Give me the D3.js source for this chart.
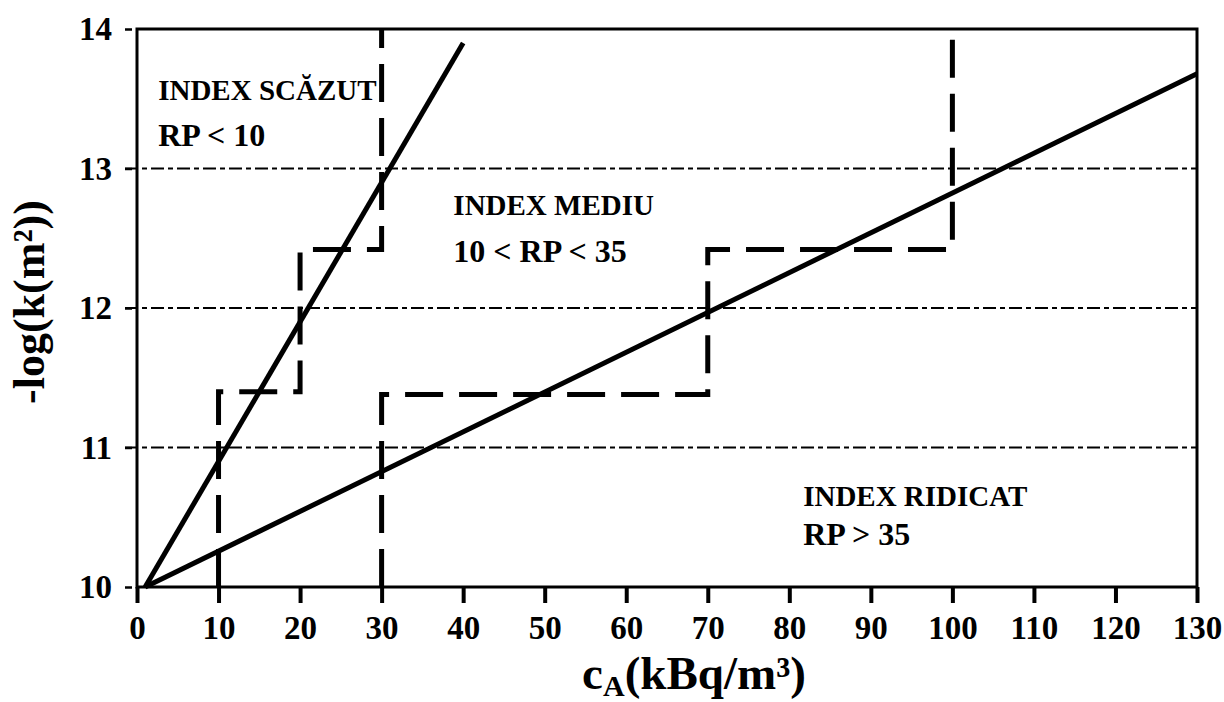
<!DOCTYPE html>
<html>
<head>
<meta charset="utf-8">
<title>Index radon</title>
<script src="https://d3js.org/d3.v7.min.js"></script>
<style>
  body { margin: 0; background: #fff; }
  text { font-family: "Liberation Serif", "Times New Roman", serif; font-weight: bold; fill: #000; }
</style>
</head>
<body>
<script>
// data
var xTicks = [0, 10, 20, 30, 40, 50, 60, 70, 80, 90, 100, 110, 120, 130];
var yTicks = [10, 11, 12, 13, 14];
var gridLevels = [11, 12, 13];
var steepLine = [[1, 10], [40, 13.9]];
var shallowLine = [[1, 10], [130, 13.68]];
var stepLow = [[10, 10], [10, 11.4], [20, 11.4], [20, 12.42], [30, 12.42], [30, 14]];
var stepHigh = [[30, 10], [30, 11.38], [70, 11.38], [70, 12.42], [100, 12.42], [100, 14]];
var labels = [
  {x: 2.6, y: 13.49, t: "INDEX SCĂZUT", size: 29},
  {x: 2.6, y: 13.16, t: "RP < 10", size: 32},
  {x: 38.8, y: 12.67, t: "INDEX MEDIU", size: 29},
  {x: 38.8, y: 12.33, t: "10 < RP < 35", size: 32},
  {x: 81.7, y: 10.58, t: "INDEX RIDICAT", size: 29},
  {x: 81.7, y: 10.30, t: "RP > 35", size: 32}
];

var width = 1224, height = 702;
var svg = d3.select("body").append("svg")
    .attr("width", width)
    .attr("height", height);

var x = d3.scaleLinear().domain([0, 130]).range([137, 1197]);
var y = d3.scaleLinear().domain([10, 14]).range([587, 29]);

var line = d3.line()
    .x(function(d) { return x(d[0]); })
    .y(function(d) { return y(d[1]); });

// dash-dot grid lines
svg.selectAll(".grid")
    .data(gridLevels)
    .enter()
    .append("line")
    .attr("x1", x(0) - 12)
    .attr("x2", x(130))
    .attr("y1", function(d) { return y(d); })
    .attr("y2", function(d) { return y(d); })
    .attr("stroke", "#000")
    .attr("stroke-width", 2)
    .attr("stroke-dasharray", "13,4,5,4");

// step boundaries
[stepLow, stepHigh].forEach(function(s) {
  svg.append("path")
      .attr("d", line(s))
      .attr("fill", "none")
      .attr("stroke", "#000")
      .attr("stroke-width", 5)
      .attr("stroke-dasharray", "38,16");
});

// regression lines
[steepLine, shallowLine].forEach(function(s) {
  svg.append("path")
      .attr("d", line(s))
      .attr("fill", "none")
      .attr("stroke", "#000")
      .attr("stroke-width", 5);
});

// frame
svg.append("rect")
    .attr("x", x(0))
    .attr("y", y(14))
    .attr("width", x(130) - x(0))
    .attr("height", y(10) - y(14))
    .attr("fill", "none")
    .attr("stroke", "#000")
    .attr("stroke-width", 3);

// x axis
var xAxis = d3.axisBottom(x).tickValues(xTicks).tickSize(16).tickFormat(d3.format("d"));
var gx = svg.append("g")
    .attr("transform", "translate(0," + y(10) + ")")
    .call(xAxis);
gx.select(".domain").remove();
gx.selectAll(".tick line").attr("stroke-width", 4);
gx.selectAll(".tick text")
    .attr("y", 52)
    .attr("dy", 0)
    .style("font-size", "33px")
    .style("font-family", "Liberation Serif")
    .style("font-weight", "bold");

// y axis
var yAxis = d3.axisLeft(y).tickValues(yTicks).tickSize(7).tickPadding(13).tickFormat(d3.format("d"));
var gy = svg.append("g")
    .attr("transform", "translate(" + (x(0) - 5) + ",0)")
    .call(yAxis);
gy.select(".domain").remove();
gy.selectAll(".tick line").attr("stroke-width", 2.5);
gy.selectAll(".tick text")
    .style("font-size", "33px")
    .style("font-family", "Liberation Serif")
    .style("font-weight", "bold");

// annotations
svg.selectAll(".ann")
    .data(labels)
    .enter()
    .append("text")
    .attr("x", function(d) { return x(d.x); })
    .attr("y", function(d) { return y(d.y); })
    .style("font-size", function(d) { return d.size + "px"; })
    .text(function(d) { return d.t; });

// axis titles
var xt = svg.append("text")
    .attr("x", 694)
    .attr("y", 689)
    .attr("text-anchor", "middle")
    .style("font-size", "47px");
xt.append("tspan").text("c");
xt.append("tspan").attr("dy", 7).style("font-size", "30px").text("A");
xt.append("tspan").attr("dy", -7).text("(kBq/m³)");

svg.append("text")
    .attr("transform", "translate(44,302) rotate(-90)")
    .attr("text-anchor", "middle")
    .style("font-size", "44px")
    .text("-log(k(m²))");
</script>
</body>
</html>
